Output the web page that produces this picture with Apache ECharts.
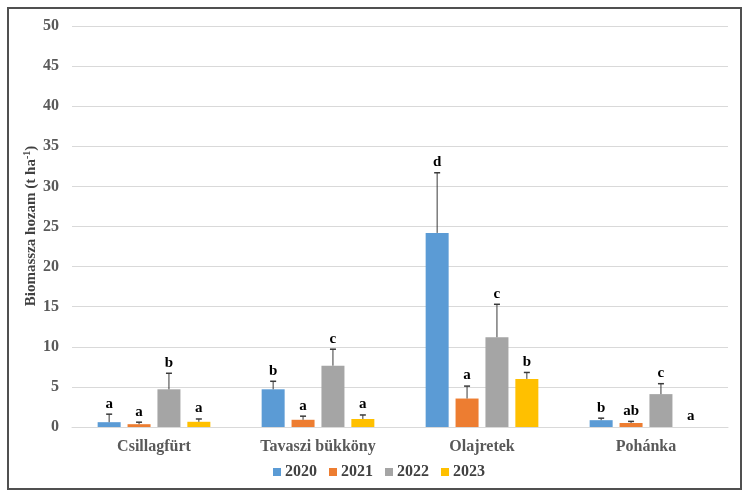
<!DOCTYPE html>
<html>
<head>
<meta charset="utf-8">
<script src="https://cdn.jsdelivr.net/npm/echarts@6/dist/echarts.min.js"></script>
<style>html,body{margin:0;padding:0;background:#fff}#c{width:750px;height:494px}</style>
</head>
<body>
<div id="c"></div>
<script>
const categories = ['Csillagfürt', 'Tavaszi bükköny', 'Olajretek', 'Pohánka'];
const years = ['2020', '2021', '2022', '2023'];
const colors = ['#5B9BD5', '#ED7D31', '#A5A5A5', '#FFC000'];
const v2020 = [0.6, 4.7, 24.2, 0.85];
const v2021 = [0.35, 0.9, 3.55, 0.5];
const v2022 = [4.7, 7.65, 11.2, 4.1];
const v2023 = [0.65, 1.0, 6.0, 0];
const e2020 = [1.6, 5.7, 31.7, 1.1];
const e2021 = [0.6, 1.35, 5.1, 0.7];
const e2022 = [6.7, 9.7, 15.3, 5.4];
const e2023 = [1.0, 1.5, 6.8, 0];
const l2020 = ['a', 'b', 'd', 'b'];
const l2021 = ['a', 'a', 'a', 'ab'];
const l2022 = ['b', 'c', 'c', 'c'];
const l2023 = ['a', 'a', 'b', 'a'];
const yTicks = [0, 50, 5];
const yName = 'Biomassza hozam (t ha{sup|-1})';

const values = [v2020, v2021, v2022, v2023];
const errs = [e2020, e2021, e2022, e2023];
const letters = [l2020, l2021, l2022, l2023];

const FONT = '"Liberation Serif", "Times New Roman", serif';
const BW = 23, GAP = 0.3;
const step = BW * (1 + GAP);

const series = [];
years.forEach((y, i) => {
  series.push({
    name: y, type: 'bar', data: values[i], barWidth: BW, barGap: (GAP * 100) + '%',
    itemStyle: { color: colors[i] }, z: 2
  });
});
years.forEach((y, i) => {
  series.push({
    type: 'custom', z: 5, silent: true,
    data: categories.map((c, k) => [k, values[i][k], errs[i][k], letters[i][k]]),
    renderItem: function (params, api) {
      const cx = api.coord([api.value(0), 0])[0] + (i - 1.5) * step;
      const yv = api.coord([api.value(0), api.value(1)])[1];
      const ye = api.coord([api.value(0), api.value(2)])[1];
      const children = [];
      if (api.value(2) > api.value(1)) {
        children.push({ type: 'line', shape: { x1: cx, y1: yv, x2: cx, y2: ye }, style: { stroke: '#3a3a3a', lineWidth: 1 } });
        children.push({ type: 'line', shape: { x1: cx - 3, y1: ye, x2: cx + 3, y2: ye }, style: { stroke: '#3a3a3a', lineWidth: 1.5 } });
      }
      children.push({ type: 'text', style: { text: letters[i][api.value(0)], x: cx, y: ye - 3, align: 'center', verticalAlign: 'bottom', font: 'bold 15px ' + FONT, fill: '#000' } });
      return { type: 'group', children: children };
    }
  });
});

const chart = echarts.init(document.getElementById('c'));
chart.setOption({
  backgroundColor: '#fff',
  animation: false,
  grid: { left: 72, right: 22, top: 26, bottom: 67 },
  legend: {
    data: years, left: 273, top: 464, padding: 0,
    itemWidth: 8, itemHeight: 8, itemGap: 12, icon: 'rect',
    textStyle: { fontFamily: FONT, fontWeight: 'bold', fontSize: 16, color: '#404040', padding: [0, 0, 0, -1] }
  },
  xAxis: {
    type: 'category', data: categories,
    axisLine: { show: true, lineStyle: { color: '#d9d9d9' } },
    axisTick: { show: false },
    axisLabel: { fontFamily: FONT, fontWeight: 'bold', fontSize: 16, color: '#595959', margin: 12 }
  },
  yAxis: {
    type: 'value', min: yTicks[0], max: yTicks[1], interval: yTicks[2],
    axisLine: { show: false }, axisTick: { show: false },
    splitLine: { lineStyle: { color: '#d9d9d9' } },
    axisLabel: { fontFamily: FONT, fontWeight: 'bold', fontSize: 16, color: '#595959', margin: 13 }
  },
  graphic: [
    { type: 'rect', shape: { x: 8, y: 8, width: 733, height: 481 }, style: { fill: 'none', stroke: '#505050', lineWidth: 2 }, silent: true },
    { type: 'text', x: 31, y: 226, rotation: Math.PI / 2, silent: true,
      style: { text: yName, align: 'center', verticalAlign: 'middle', font: 'bold 15px ' + FONT, fill: '#404040',
        rich: { sup: { font: 'bold 10px ' + FONT, fill: '#404040', padding: [0, 0, 7, 0] } } } }
  ],
  series: series
});
</script>
</body>
</html>
